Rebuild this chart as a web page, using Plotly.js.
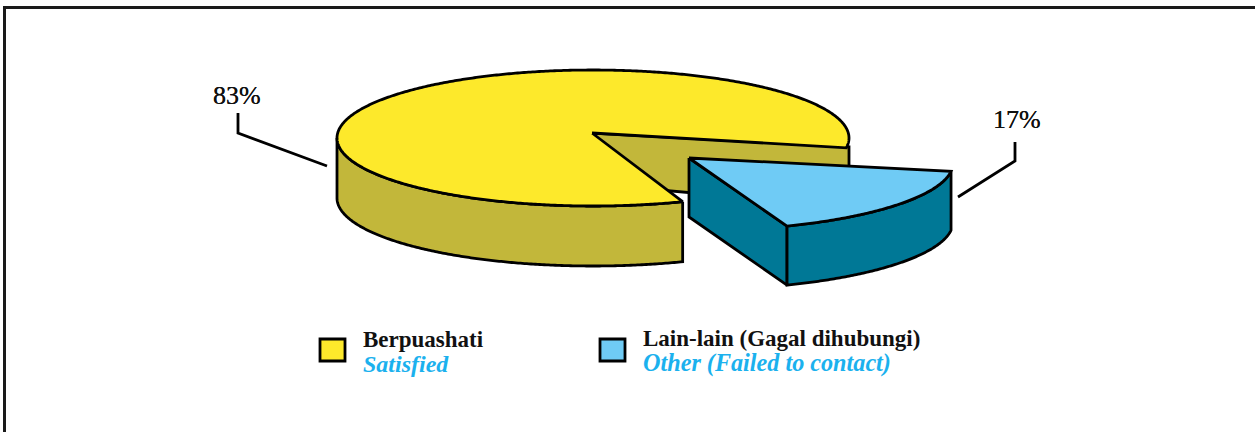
<!DOCTYPE html>
<html><head><meta charset="utf-8">
<script src="https://cdn.plot.ly/plotly-3.0.1.min.js"></script>
<style>html,body{margin:0;padding:0;background:#fff}#c{width:1255px;height:432px}</style>
</head><body><div id="c"></div>
<script>
var categoriesMs = ['Berpuashati', 'Lain-lain (Gagal dihubungi)'];
var categoriesEn = ['Satisfied', 'Other (Failed to contact)'];
var shares = [83, 17];

var YELLOW = '#FDE92B', OLIVE = '#C2B73A', SKY = '#6FCBF5', TEAL = '#007896', INK = '#000000', TEXTBLUE = '#1BB1EE';
var FONT = '"Liberation Serif", serif';
var START = 69.5, LW = 2.8;
var main = {ax: 592, ay: 133, cx: 593, cy: 138, rx: 256, ry: 68, d: 60};
var blue = {ax: 689, ay: 158, cx: 689, cy: 163, rx: 264, ry: 68, d: 59};

function arc(g, a0, a1, dy) {
  var xs = [], ys = [], n = Math.max(2, Math.round(Math.abs(a1 - a0) / 0.5));
  for (var i = 0; i <= n; i++) {
    var t = (a0 + (a1 - a0) * i / n) * Math.PI / 180;
    xs.push(g.cx + g.rx * Math.cos(t));
    ys.push(g.cy + g.ry * Math.sin(t) + (dy || 0));
  }
  return [xs, ys];
}
function poly(xs, ys, fill) {
  return {type: 'scatter', mode: 'lines', x: xs.concat([xs[0]]), y: ys.concat([ys[0]]), fill: 'toself',
    fillcolor: fill, line: {color: INK, width: LW, shape: 'linear', simplify: false}, hoverinfo: 'skip', showlegend: false};
}
function wall(g, a0, a1, fill) {
  var t = arc(g, a0, a1, 0), b = arc(g, a1, a0, g.d);
  return poly(t[0].concat(b[0]), t[1].concat(b[1]), fill);
}

var sweepMain = shares[0] / 100 * 360, sweepBlue = shares[1] / 100 * 360;
var aEnd = START + sweepMain;
var bStart = 7, bEnd = bStart + sweepBlue;

var endPt = arc(main, aEnd, aEnd, 0);
var rimX = main.cx + main.rx;
var traces = [];
// inner wall seen through the gap, running out to the rim of the pie
traces.push(poly([main.ax, rimX, rimX, main.ax],
                 [main.ay, endPt[1][0] - 1, endPt[1][0] - 1 + main.d, main.ay + main.d - 9], OLIVE));
// outer wall of big slice
traces.push(wall(main, START, 180, OLIVE));
// top of big slice
var top1 = arc(main, START, aEnd, 0);
traces.push(poly([main.ax].concat(top1[0]), [main.ay].concat(top1[1]), YELLOW));
// blue slice
var b1 = arc(blue, bEnd, bEnd, 0);
traces.push(poly([blue.ax, b1[0][0], b1[0][0], blue.ax],
                 [blue.ay, b1[1][0], b1[1][0] + blue.d, blue.ay + blue.d], TEAL));
traces.push(wall(blue, bStart, bEnd, TEAL));
var top2 = arc(blue, bStart, bEnd, 0);
traces.push(poly([blue.ax].concat(top2[0]), [blue.ay].concat(top2[1]), SKY));

function leader(pts) {
  return {type: 'path', xref: 'x', yref: 'y', line: {color: INK, width: LW},
    path: 'M' + pts.map(function (p) { return p.join(','); }).join('L')};
}
function swatch(x, y, fill) {
  return {type: 'rect', xref: 'x', yref: 'y', x0: x, x1: x + 25, y0: y, y1: y + 22, fillcolor: fill,
    line: {color: INK, width: 2.8}};
}
// Two-line legend label: the small base font sets the line pitch, the spans set the glyph size.
function label(x, y, ms, en, msSize, enSize) {
  var text = '<span style="font-size:' + msSize + 'px"><b>' + ms + '</b></span><br>' +
             '<span style="font-size:' + enSize + 'px;fill:' + TEXTBLUE + '"><b><i>' + en + '</i></b></span>';
  return {xref: 'x', yref: 'y', x: x, y: y, text: text, showarrow: false, xanchor: 'left', yanchor: 'middle', align: 'left',
    font: {family: FONT, size: 19.5, color: '#111'}, borderpad: 0, borderwidth: 0};
}
function pct(x, y, v) {
  return {xref: 'x', yref: 'y', x: x, y: y, text: v + '%', showarrow: false, xanchor: 'center', yanchor: 'middle',
    font: {family: FONT, size: 26, color: '#111', shadow: '0 0 0.6px #111'}};
}

var layout = {
  width: 1255, height: 432, margin: {l: 0, r: 0, t: 0, b: 0}, showlegend: false,
  paper_bgcolor: '#fff', plot_bgcolor: '#fff',
  xaxis: {range: [0, 1255], visible: false, fixedrange: true},
  yaxis: {range: [432, 0], visible: false, fixedrange: true},
  shapes: [
    {type: 'path', xref: 'x', yref: 'y', line: {color: '#1a1a1a', width: 3}, path: 'M4.5,432L4.5,7.5L1255,7.5'},
    leader([[238, 113], [238, 133], [327, 166]]),
    leader([[1015, 142], [1015, 161], [958, 197]]),
    swatch(320, 339, YELLOW),
    swatch(600, 339, SKY)
  ],
  annotations: [
    pct(237, 95, shares[0]), pct(1017, 119, shares[1]),
    label(363, 351.5, categoriesMs[0], categoriesEn[0], 23, 24),
    label(643, 351.5, categoriesMs[1], categoriesEn[1], 23, 24.2)
  ]
};
Plotly.newPlot('c', traces, layout, {displayModeBar: false, staticPlot: true});
</script></body></html>
